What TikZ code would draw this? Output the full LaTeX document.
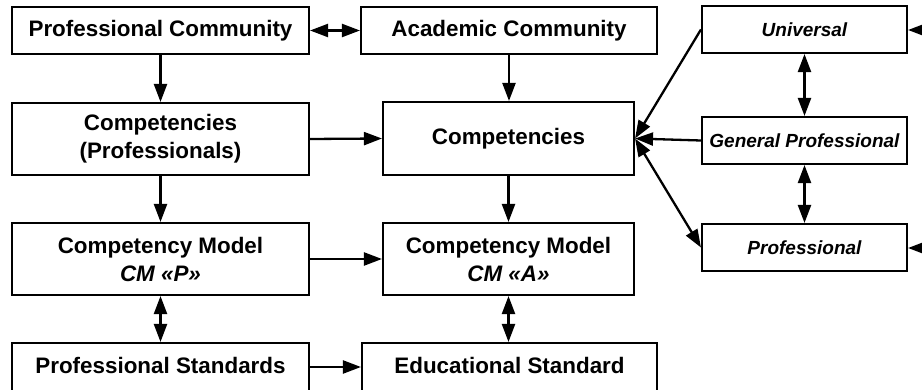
\documentclass[tikz,border=0pt]{standalone}
\usepackage{fontspec}
\setmainfont{Liberation Sans}
\usetikzlibrary{arrows.meta}
\tikzset{
  box/.style={draw, line width=2.1pt, inner sep=0pt, align=center, fill=white,
    font=\fontsize{22.4}{28}\selectfont\bfseries},
  sbox/.style={draw, line width=2.1pt, inner sep=0pt, align=center, fill=white,
    minimum width=205pt, minimum height=47pt,
    font=\fontsize{19}{23}\selectfont\bfseries\itshape},
  txt/.style={inner sep=0pt, font=\fontsize{22.4}{28}\selectfont\bfseries},
  tip/.tip={Triangle[length=18pt,width=13pt]},
  arr/.style={line width=2.3pt, -tip},
  darr/.style={line width=2.3pt, tip-tip}
}
\begin{document}
\begin{tikzpicture}[x=1pt,y=-1pt]
\useasboundingbox (0,0) rectangle (922,390);
% left column
\node[box, minimum width=297pt, minimum height=47pt] (pc) at (160.5,30.5) {Professional Community};
\node[box, minimum width=297pt, minimum height=72pt] (cp) at (160.5,139) {Competencies\\(Professionals)};
\node[box, minimum width=297pt, minimum height=72pt] (mp) at (160.5,259) {Competency Model\\\textit{CM «P»}};
\node[box, minimum width=297pt, minimum height=56pt] (ps) at (160.5,371) {};
\node[txt] (pst) at (160.5,365) {Professional Standards};
% middle column
\node[box, minimum width=296pt, minimum height=47pt] (ac) at (509,30.5) {Academic Community};
\node[box, minimum width=251pt, minimum height=73pt] (cm) at (508.5,138.5) {Competencies};
\node[box, minimum width=251pt, minimum height=72pt] (ma) at (508.5,259) {Competency Model\\\textit{CM «A»}};
\node[box, minimum width=295pt, minimum height=56pt] (es) at (509.5,371) {};
\node[txt] (est) at (509.5,365) {Educational Standard};
% right column
\node[sbox] (un) at (804.5,29.5) {Universal};
\node[sbox] (gp) at (804.5,140.5) {General Professional};
\node[sbox] (pr) at (804.5,247.5) {Professional};
\coordinate (ou) at (930,30);
\coordinate (op) at (930,248);
% connectors
\draw[darr] (pc.east) -- (ac.west);
\draw[arr] (pc.south) -- (cp.north);
\draw[arr] (cp.south) -- (mp.north);
\draw[darr] (mp.south) -- (ps.north);
\draw[arr] (ac.south) -- (ac.south |- cm.north);
\draw[arr] (cm.south) -- (ma.north);
\draw[darr] (ma.south) -- (ma.south |- es.north);
\draw[arr] (cp.east) -- (cm.west);
\draw[arr] (mp.east) -- (ma.west);
\draw[arr] ([yshift=-2pt]ps.east |- pst) -- ([yshift=-2pt]es.west |- pst);
\draw[arr] (un.west) -- (cm.east);
\draw[arr] (gp.west) -- (cm.east);
\draw[darr] (cm.east) -- (pr.west);
\draw[darr] (un.south) -- (gp.north);
\draw[darr] (gp.south) -- (pr.north);
\draw[arr] (ou) -- (un.east |- ou);
\draw[arr] (op) -- (pr.east |- op);
\end{tikzpicture}
\end{document}
